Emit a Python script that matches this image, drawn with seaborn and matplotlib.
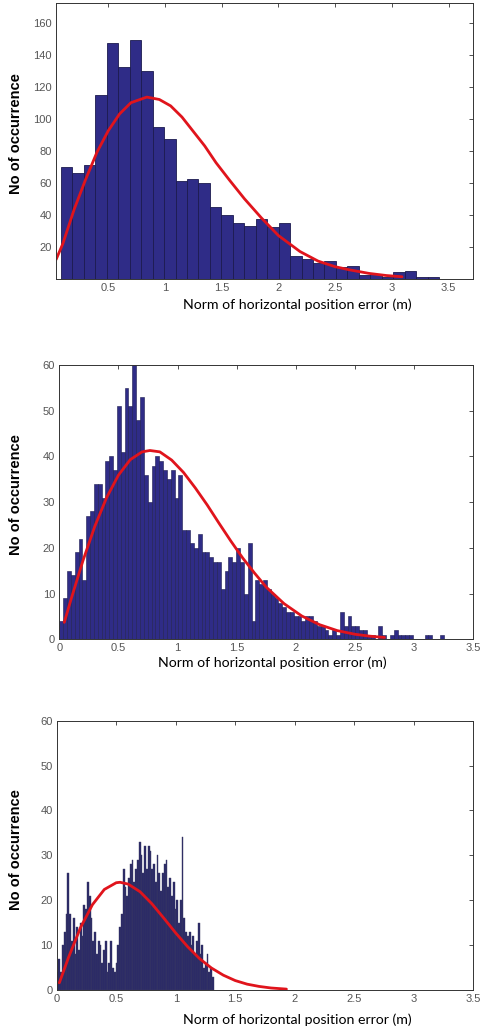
import numpy as np
import pandas as pd
import seaborn as sns
import matplotlib.pyplot as plt

# ---------------- data ----------------
# Panel 1 (top): 33 bins, 0.083 .. 3.416
top_counts = [70, 66, 71, 115, 147, 132, 149, 130, 95, 87, 61, 62, 60, 45, 40, 35,
              33, 37, 32, 35, 14, 12, 10, 11, 7, 8, 2, 3, 1, 4, 5, 1, 1]
top_edges = [round(0.083 + 0.101 * i, 4) for i in range(len(top_counts) + 1)]
top_curve_x = [0.04, 0.1, 0.2, 0.3, 0.4, 0.5, 0.6, 0.7, 0.84, 0.95, 1.05, 1.15, 1.25,
               1.35, 1.45, 1.57, 1.7, 1.85, 2.0, 2.19, 2.35, 2.5, 2.63, 2.8, 2.95, 3.09]
top_curve_y = [12, 22, 43.5, 62, 79, 92.5, 103, 110, 113.5, 112, 108, 101, 92,
               83, 72.5, 61.5, 50, 38, 27, 17, 11, 7.5, 5.5, 3.3, 2.0, 1.2]

# Panel 2 (middle): 100 bins, 0 .. 3.25
mid_counts = [4, 9, 15, 14, 19, 22, 13, 27, 28,
              34, 34, 31, 39, 40, 37, 51, 41, 55, 51, 60,
              48, 53, 36, 30, 38, 40, 39, 37, 35, 37, 31,
              36, 24, 24, 21, 20, 23, 19, 19, 18, 17, 17,
              11, 15, 18, 17, 20, 17, 10, 21, 4,
              13, 12, 13, 11, 10, 9, 8, 7, 6, 6,
              5, 5, 4, 5, 5, 4, 3, 3, 2, 1, 2, 1,
              6, 3, 5, 3, 3, 2, 2,
              1, 1, 0, 3, 1, 0, 1, 2, 1, 1, 1, 1, 0, 0, 0, 1, 1, 0, 0, 1]
mid_edges = [round(0.0325 * i, 4) for i in range(len(mid_counts) + 1)]
mid_curve_x = [0.042, 0.1, 0.2, 0.3, 0.4, 0.5, 0.6, 0.7, 0.766, 0.85, 0.95, 1.05, 1.15,
               1.25, 1.35, 1.45, 1.55, 1.65, 1.75, 1.9, 2.05, 2.2, 2.35, 2.5, 2.62, 2.75]
mid_curve_y = [3.7, 8.8, 17.2, 24.7, 31.0, 35.9, 39.3, 41.0, 41.3, 41.0, 39.2, 36.5, 33.1,
               29.4, 25.4, 21.5, 17.8, 14.5, 11.4, 7.8, 5.1, 3.2, 1.9, 1.1, 0.7, 0.4]

# Panel 3 (bottom): 88 bins, 0 .. 1.32
bot_counts = [4, 7, 4, 10, 13, 17, 26, 17, 11, 16, 8, 14, 9, 15, 12, 19, 18, 24, 21, 16,
              11, 13, 8, 11, 10, 6, 9, 11, 4, 6, 11, 5, 4, 6, 10, 14, 17, 27, 23, 21,
              25, 28, 29, 24, 27, 29, 33, 30, 26, 32, 27, 32, 31, 27, 28, 24, 30, 26, 22, 26,
              28, 29, 23, 25, 21, 24, 18, 20, 15, 20, 34, 16, 13, 12, 13, 10, 12, 8, 11, 15,
              8, 10, 5, 6, 8, 4, 5, 3]
bot_edges = [round(0.015 * i, 4) for i in range(len(bot_counts) + 1)]
bot_curve_x = [0.022, 0.1, 0.2, 0.3, 0.4, 0.5, 0.532, 0.6, 0.7, 0.8, 0.9, 1.0, 1.1,
               1.2, 1.3, 1.4, 1.5, 1.6, 1.7, 1.8, 1.93]
bot_curve_y = [1.6, 7.3, 13.9, 19.0, 22.4, 23.9, 24.0, 23.6, 21.9, 19.2, 16.0, 12.7, 9.65,
               7.0, 4.9, 3.3, 2.1, 1.3, 0.8, 0.45, 0.2]

x_label = "Norm of horizontal position error (m)"
y_label = "No of occurrence"

# ---------------- style ----------------
sns.set_theme(style="white")
plt.rcParams['font.family'] = ['Liberation Sans', 'DejaVu Sans']

BAR = "#2f2c87"
EDGE = "#1c1b4f"
RED = "#e0141c"
TICK = "#555555"

W, H = 480, 1034
fig = plt.figure(figsize=(W / 100, H / 100), dpi=100)


def add_axes(left, top, right, bottom):
    return fig.add_axes([left / W, 1 - bottom / H, (right - left) / W, (bottom - top) / H])


def centers(edges):
    return [(edges[i] + edges[i + 1]) / 2 for i in range(len(edges) - 1)]


panels = [
    dict(box=(56, 3, 473, 278.7), counts=top_counts, edges=top_edges,
         cx=top_curve_x, cy=top_curve_y, xlim=(0.039, 3.716), ylim=(0, 172.3),
         xticks=[0.5, 1, 1.5, 2, 2.5, 3, 3.5], yticks=list(range(20, 161, 20)),
         xl=(297, 305), yl=(16, 134), lw=0.6, ec=EDGE, fc=BAR),
    dict(box=(59.3, 365, 473.3, 639.3), counts=mid_counts, edges=mid_edges,
         cx=mid_curve_x, cy=mid_curve_y, xlim=(0, 3.5), ylim=(0, 60),
         xticks=[0, 0.5, 1, 1.5, 2, 2.5, 3, 3.5], yticks=list(range(0, 61, 10)),
         xl=(272, 663), yl=(16, 495), lw=0.4, ec=EDGE, fc=BAR),
    dict(box=(56.7, 720.7, 473.3, 990), counts=bot_counts, edges=bot_edges,
         cx=bot_curve_x, cy=bot_curve_y, xlim=(0, 3.5), ylim=(0, 60),
         xticks=[0, 0.5, 1, 1.5, 2, 2.5, 3, 3.5], yticks=list(range(0, 61, 10)),
         xl=(297, 1020), yl=(16, 850), lw=0.3, ec="#3a3a62", fc="#292868"),
]

for p in panels:
    ax = add_axes(*p['box'])
    df = pd.DataFrame({'x': centers(p['edges']), 'n': p['counts']})
    sns.histplot(data=df, x='x', weights='n', bins=p['edges'], ax=ax,
                 color=p['fc'], edgecolor=p['ec'], linewidth=p['lw'], alpha=1.0)
    sns.lineplot(x=p['cx'], y=p['cy'], ax=ax, color=RED, linewidth=2.0,
                 sort=False, estimator=None)
    ax.set_xlim(*p['xlim'])
    ax.set_ylim(*p['ylim'])
    ax.set_xticks(p['xticks'])
    ax.set_xticklabels([f"{t:g}" for t in p['xticks']])
    ax.set_yticks(p['yticks'])
    ax.set_xlabel("")
    ax.set_ylabel("")
    ax.tick_params(direction='in', top=True, right=True, length=3, width=0.6,
                   colors="#333333", labelcolor=TICK, labelsize=8, pad=3)
    for s in ax.spines.values():
        s.set_color("#333333")
        s.set_linewidth(0.7)
    fig.text(p['xl'][0] / W, 1 - p['xl'][1] / H, x_label, ha='center', va='center',
             fontsize=10.2, family=['Lato', 'DejaVu Sans'], color='black')
    fig.text(p['yl'][0] / W, 1 - p['yl'][1] / H, y_label, ha='center', va='center',
             rotation=90, fontsize=10.5, fontweight='bold', color='black')

fig.savefig("out.png", dpi=100)
